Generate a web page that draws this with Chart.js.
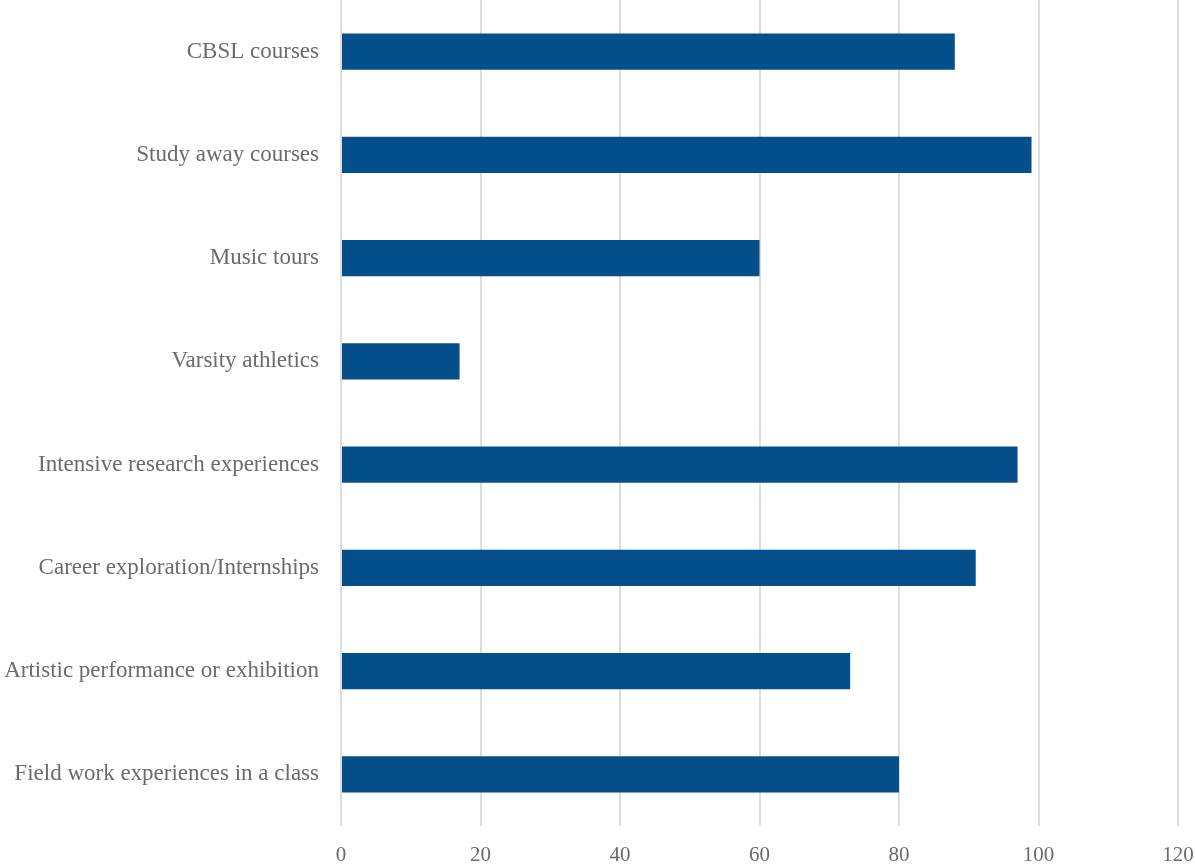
<!DOCTYPE html>
<html>
<head>
<meta charset="utf-8">
<script src="https://cdn.jsdelivr.net/npm/chart.js@4"></script>
<style>
  html, body { margin: 0; padding: 0; background: #fff; }
  #wrap { width: 1195px; height: 867px; }
</style>
</head>
<body>
<div id="wrap"><canvas id="barChart"></canvas></div>
<script>
const categories = [
  "CBSL courses",
  "Study away courses",
  "Music tours",
  "Varsity athletics",
  "Intensive research experiences",
  "Career exploration/Internships",
  "Artistic performance or exhibition",
  "Field work experiences in a class",
];
const values = [88, 99, 60, 17, 97, 91, 73, 80];
const xMin = 0;
const xMax = 120;
const xStep = 20;

const fontFamily = "'Liberation Serif', 'DejaVu Serif', serif";
const textColor = "#6b6b6b";

const barChart = new Chart(document.getElementById("barChart"), {
  type: "bar",
  data: {
    labels: categories,
    datasets: [
      {
        label: "Count",
        data: values,
        backgroundColor: "#05508a",
        borderWidth: 0,
        barPercentage: 0.35,
        categoryPercentage: 1,
      },
    ],
  },
  options: {
    indexAxis: "y",
    responsive: true,
    maintainAspectRatio: false,
    animation: false,
    layout: { padding: { top: 0, right: 17, bottom: 0, left: 0 } },
    plugins: {
      legend: { display: false },
      tooltip: { enabled: false },
    },
    scales: {
      x: {
        min: xMin,
        max: xMax,
        ticks: {
          stepSize: xStep,
          color: textColor,
          padding: 17,
          font: { family: fontFamily, size: 21 },
        },
        grid: { color: "#dddddd", lineWidth: 2, drawTicks: false },
        border: { display: false },
        afterFit: (scale) => {
          scale.height = 41;
          scale.paddingLeft = 0;
          scale.paddingRight = 0;
        },
      },
      y: {
        ticks: {
          color: textColor,
          padding: 22,
          font: { family: fontFamily, size: 23 },
        },
        grid: { display: false, drawTicks: false },
        border: { display: false },
        afterFit: (scale) => {
          scale.width = 341;
          scale.paddingTop = 0;
          scale.paddingBottom = 0;
        },
      },
    },
  },
});
</script>
</body>
</html>
